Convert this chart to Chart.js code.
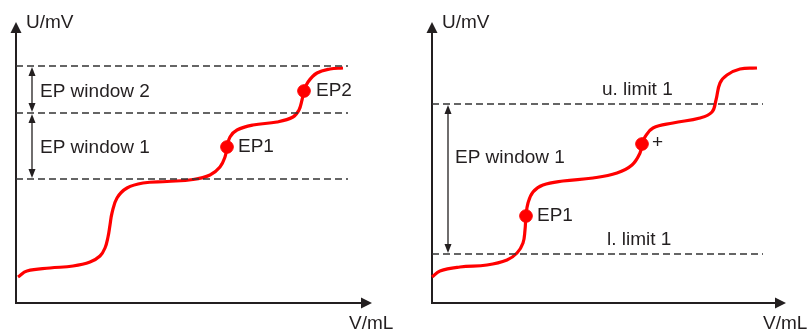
<!DOCTYPE html>
<html>
<head>
<meta charset="utf-8">
<script src="https://cdn.jsdelivr.net/npm/chart.js@4.4.1/dist/chart.umd.min.js"></script>
<style>
  html, body { margin: 0; padding: 0; background: #fff; }
  #wrap { position: relative; width: 811px; height: 331px; overflow: hidden; }
  canvas { position: absolute; top: 0; }
</style>
</head>
<body>
<div id="wrap">
  <canvas id="c1" width="405" height="331" style="left:0px"></canvas>
  <canvas id="c2" width="406" height="331" style="left:405px"></canvas>
</div>
<script>
// ---------- Data (arbitrary units) ----------
const leftCurveX = [2, 11, 34, 57, 74, 84, 89, 92, 94, 96, 101, 111, 127, 151, 177, 194, 204, 209, 211, 214, 221, 237, 261, 277, 283, 286, 288, 292, 301, 314, 327];
const leftCurveY = [26, 32, 35, 37, 41, 47, 55, 66, 78, 90, 105, 115, 120, 121.5, 123.5, 128, 136, 146, 156, 166, 173, 178, 181, 186, 193, 203, 212, 221, 230, 234, 235];
const leftEPx = [211, 288];
const leftEPy = [156, 212];
const leftEPLabels = ["EP1", "EP2"];
const leftLimits = [237, 190, 124];
const leftWindowLabels = ["EP window 2", "EP window 1"];

const rightCurveX = [0, 8, 28, 55, 75, 85, 91, 93, 94, 96, 101, 111, 131, 161, 185, 200, 208, 210, 213, 221, 241, 268, 280, 284, 288, 295, 308, 325];
const rightCurveY = [26, 32, 36, 38, 43, 50, 60, 73, 87, 100, 111, 118, 122, 125, 130, 138, 150, 159, 166, 175, 180, 185, 191, 203, 220, 228, 234, 235];
const rightEPx = [94, 210];
const rightEPy = [87, 159];
const rightEPLabels = ["EP1", "+"];
const rightLimits = [199, 49];
const rightLimitLabels = ["u. limit 1", "l. limit 1"];
const rightWindowLabels = ["EP window 1"];

const axisLabels = ["U/mV", "V/mL"];

// ---------- Styling ----------
const RED = '#ff0000';
const INK = '#231f20';
const FONT = '19px "Liberation Sans", Arial, Helvetica, sans-serif';

function zip(xs, ys) { return xs.map((x, i) => ({ x: x, y: ys[i] })); }

function arrowHead(ctx, x, y, dir, len, half) {
  ctx.beginPath();
  if (dir === 'up') { ctx.moveTo(x, y); ctx.lineTo(x - half, y + len); ctx.lineTo(x + half, y + len); }
  if (dir === 'down') { ctx.moveTo(x, y); ctx.lineTo(x - half, y - len); ctx.lineTo(x + half, y - len); }
  if (dir === 'right') { ctx.moveTo(x, y); ctx.lineTo(x - len, y - half); ctx.lineTo(x - len, y + half); }
  ctx.closePath();
  ctx.fill();
}

function makeChart(id, cfg) {
  const decor = {
    id: 'decor',
    beforeDatasetsDraw(chart) {
      const ctx = chart.ctx, a = chart.chartArea;
      const xs = chart.scales.x, ys = chart.scales.y;
      const ox = xs.getPixelForValue(0), oy = ys.getPixelForValue(0);
      ctx.save();
      ctx.strokeStyle = INK; ctx.fillStyle = INK; ctx.lineWidth = 2;
      ctx.beginPath(); ctx.moveTo(ox, oy + 1); ctx.lineTo(ox, a.top + 8); ctx.stroke();
      ctx.beginPath(); ctx.moveTo(ox - 1, oy); ctx.lineTo(a.right - 8, oy); ctx.stroke();
      arrowHead(ctx, ox, a.top, 'up', 11, 5.5);
      arrowHead(ctx, a.right, oy, 'right', 11, 5.5);
      // window arrows
      ctx.lineWidth = 1.3;
      cfg.windows.forEach(w => {
        const x = xs.getPixelForValue(w.x);
        const y1 = ys.getPixelForValue(w.top), y2 = ys.getPixelForValue(w.bottom);
        ctx.beginPath(); ctx.moveTo(x, y1 + 4); ctx.lineTo(x, y2 - 4); ctx.stroke();
        arrowHead(ctx, x, y1 + 1, 'up', 9, 3.5);
        arrowHead(ctx, x, y2 - 1, 'down', 9, 3.5);
      });
      ctx.restore();
    },
    afterDatasetsDraw(chart) {
      const ctx = chart.ctx, a = chart.chartArea;
      const xs = chart.scales.x, ys = chart.scales.y;
      ctx.save();
      ctx.fillStyle = INK;
      ctx.font = FONT;
      ctx.textBaseline = 'middle';
      ctx.textAlign = 'left';
      cfg.texts.forEach(t => {
        ctx.fillText(t.text, xs.getPixelForValue(t.x), ys.getPixelForValue(t.y));
      });
      ctx.textBaseline = 'alphabetic';
      ctx.fillText(axisLabels[0], xs.getPixelForValue(0) + 10, a.top + 6);
      ctx.fillText(axisLabels[1], a.right - 23, a.bottom + 26);
      ctx.restore();
    }
  };

  const datasets = [];
  cfg.limits.forEach(v => {
    datasets.push({
      type: 'line',
      data: [{ x: 0, y: v }, { x: cfg.limitEnd, y: v }],
      borderColor: '#333', borderWidth: 1.4, borderDash: [7, 4],
      pointRadius: 0, fill: false, clip: false
    });
  });
  datasets.push({
    type: 'line',
    data: zip(cfg.curveX, cfg.curveY),
    borderColor: RED, borderWidth: 3.2,
    tension: 0.4,
    pointRadius: 0, fill: false, clip: false
  });
  datasets.push({
    type: 'scatter',
    data: zip(cfg.epX, cfg.epY),
    backgroundColor: RED, borderColor: RED,
    pointRadius: 6.3, clip: false
  });

  return new Chart(document.getElementById(id), {
    type: 'line',
    data: { datasets: datasets },
    options: {
      responsive: false,
      animation: false,
      events: [],
      layout: { padding: cfg.padding },
      plugins: { legend: { display: false }, tooltip: { enabled: false } },
      scales: {
        x: { type: 'linear', min: 0, max: cfg.xMax, display: false },
        y: { type: 'linear', min: 0, max: 281, display: false }
      }
    },
    plugins: [decor]
  });
}

makeChart('c1', {
  padding: { left: 16, right: 33, top: 22, bottom: 28 },
  xMax: 356,
  limitEnd: 332,
  limits: leftLimits,
  curveX: leftCurveX, curveY: leftCurveY,
  epX: leftEPx, epY: leftEPy,
  windows: [
    { x: 16, top: leftLimits[0], bottom: leftLimits[1] },
    { x: 16, top: leftLimits[1], bottom: leftLimits[2] }
  ],
  texts: [
    { text: leftWindowLabels[0], x: 24, y: 211 },
    { text: leftWindowLabels[1], x: 24, y: 155 },
    { text: leftEPLabels[0], x: 222, y: leftEPy[0] },
    { text: leftEPLabels[1], x: 300, y: leftEPy[1] }
  ]
});

makeChart('c2', {
  padding: { left: 27, right: 25, top: 22, bottom: 28 },
  xMax: 354,
  limitEnd: 331,
  limits: rightLimits,
  curveX: rightCurveX, curveY: rightCurveY,
  epX: rightEPx, epY: rightEPy,
  windows: [
    { x: 16, top: rightLimits[0], bottom: rightLimits[1] }
  ],
  texts: [
    { text: rightLimitLabels[0], x: 170, y: 213 },
    { text: rightLimitLabels[1], x: 175, y: 63 },
    { text: rightWindowLabels[0], x: 23, y: 145 },
    { text: rightEPLabels[0], x: 105, y: rightEPy[0] },
    { text: rightEPLabels[1], x: 220, y: rightEPy[1] + 1 }
  ]
});
</script>
</body>
</html>
